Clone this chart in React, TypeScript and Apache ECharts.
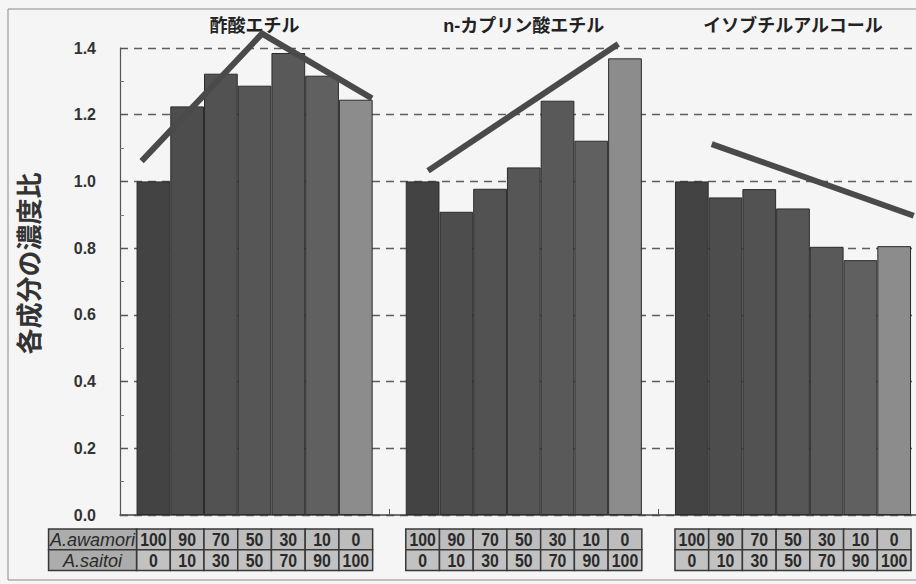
import React, { useEffect, useRef } from "react";
import * as echarts from "echarts";

// ---- data ----
const groups = ["酢酸エチル", "n-カプリン酸エチル", "イソブチルアルコール"];
const awamori = [100, 90, 70, 50, 30, 10, 0];
const saitoi = [0, 10, 30, 50, 70, 90, 100];
const rowLabels = ["A.awamori", "A.saitoi"];

const ethylAcetate = [1.0, 1.225, 1.323, 1.287, 1.385, 1.317, 1.245];
const ethylCaprate = [1.0, 0.909, 0.978, 1.042, 1.242, 1.122, 1.369];
const isobutanol = [1.0, 0.952, 0.977, 0.919, 0.804, 0.764, 0.806];

// trend lines: position in bar units (0 = first bar centre) and value
const trendAcetatePos = [-0.35, 3.22, 6.48];
const trendAcetateVal = [1.061, 1.443, 1.249];
const trendCapratePos = [0.16, 5.8];
const trendCaprateVal = [1.032, 1.412];
const trendIsobutPos = [0.59, 6.58];
const trendIsobutVal = [1.112, 0.897];

const yTicks = [0, 0.2, 0.4, 0.6, 0.8, 1.0, 1.2, 1.4];

// ---- styling ----
const barColors = ["#434343", "#4d4d4d", "#525252", "#565656", "#595959", "#606060", "#8c8c8c"];
const GAP_PCT = 12.3;
const LAT_FONT = "'Liberation Sans', Arial, sans-serif";
const JP_FONT = "'Noto Sans CJK JP', sans-serif";

const groupValues = [ethylAcetate, ethylCaprate, isobutanol];
const trendPos = [trendAcetatePos, trendCapratePos, trendIsobutPos];
const trendVal = [trendAcetateVal, trendCaprateVal, trendIsobutVal];

function barWidthOf(api: any) {
  const band = api.size([1, 0])[0];
  return (band * (1 - GAP_PCT / 100)) / 7;
}

export default function App() {
  const ref = useRef<HTMLDivElement>(null);
  useEffect(() => {
    if (!ref.current) return;
    const chart = echarts.init(ref.current, null, { renderer: "svg" });

    const barSeries = awamori.map((a, i) => ({
      type: "bar",
      name: `${a}/${saitoi[i]}`,
      xAxisIndex: 0,
      yAxisIndex: 0,
      data: groupValues.map((g) => g[i]),
      barGap: "0%",
      barCategoryGap: GAP_PCT + "%",
      itemStyle: { color: barColors[i], borderColor: "#2b2b2b", borderWidth: 1 },
      z: 3,
    }));

    const trendSeries = {
      type: "custom",
      xAxisIndex: 0,
      yAxisIndex: 0,
      clip: false,
      z: 5,
      data: groups.map((_, g) => [g, trendVal[g][0]]),
      renderItem: (params: any, api: any) => {
        const g = params.dataIndex;
        const c = api.coord([g, 0]);
        const bw = barWidthOf(api);
        const pts = trendPos[g].map((p, i) => [
          c[0] - 3 * bw + p * bw,
          api.coord([g, trendVal[g][i]])[1],
        ]);
        return {
          type: "polyline",
          shape: { points: pts },
          style: { stroke: "#4a4a4a", lineWidth: 6, fill: "none", lineJoin: "miter", lineCap: "butt" },
        };
      },
    };

    const tableData: number[][] = [];
    groups.forEach((_, g) => awamori.forEach(() => tableData.push([g, 0])));

    const cellStyle = (fill: string) => ({ fill, stroke: "#383838", lineWidth: 1.5 });
    const numText = (text: string, x: number, y: number) => ({
      type: "text",
      x,
      y,
      scaleX: 0.88,
      style: {
        text, x: 0, y: 0, align: "center", verticalAlign: "middle",
        fontSize: 18, fontWeight: "bold", fontFamily: LAT_FONT, fill: "#2a2a2a",
      },
    });

    const tableSeries = {
      type: "custom",
      xAxisIndex: 0,
      yAxisIndex: 0,
      clip: false,
      z: 2,
      silent: true,
      data: tableData,
      renderItem: (params: any, api: any) => {
        const g = Math.floor(params.dataIndex / 7);
        const k = params.dataIndex % 7;
        const c = api.coord([g, 0]);
        const bw = barWidthOf(api);
        const x0 = c[0] - 3.5 * bw + k * bw;
        const top = c[1] + 14;
        const rowH = 20.7;
        const children: any[] = [
          { type: "rect", shape: { x: x0, y: top, width: bw, height: rowH }, style: cellStyle("#bdbdbd") },
          { type: "rect", shape: { x: x0, y: top + rowH, width: bw, height: rowH }, style: cellStyle("#c2c2c2") },
          numText(String(awamori[k]), x0 + bw / 2, top + rowH / 2 + 1),
          numText(String(saitoi[k]), x0 + bw / 2, top + rowH * 1.5 + 1),
        ];
        if (g === 0 && k === 0) {
          const hw = 88;
          rowLabels.forEach((lab, r) => {
            children.push({
              type: "rect",
              shape: { x: x0 - hw, y: top + r * rowH, width: hw, height: rowH },
              style: cellStyle("#acacac"),
            });
            children.push({
              type: "text",
              style: {
                text: lab, x: x0 - hw / 2, y: top + rowH * (r + 0.5) + 1,
                align: "center", verticalAlign: "middle",
                fontSize: 18, fontStyle: "italic", fontFamily: LAT_FONT, fill: "#2a2a2a",
              },
            });
          });
        }
        return { type: "group", children };
      },
    };

    chart.setOption({
      animation: false,
      backgroundColor: "#f5f5f5",
      textStyle: { fontFamily: LAT_FONT },
      grid: { left: 120, width: 807.6, top: 48, bottom: 69, containLabel: false, outerBoundsMode: "none" },
      xAxis: [
        {
          type: "category",
          data: groups,
          position: "bottom",
          axisLine: { show: true, lineStyle: { color: "#444", width: 1.5 } },
          axisTick: { show: true, inside: true, length: 6, lineStyle: { color: "#555" } },
          axisLabel: { show: false },
          splitLine: { show: false },
        },
        {
          type: "category",
          data: groups,
          position: "top",
          axisLine: { show: false },
          axisTick: { show: false },
          axisLabel: {
            show: true, margin: 13, fontSize: 18, fontWeight: "bold",
            color: "#222", fontFamily: "'Liberation Sans', 'Noto Sans CJK JP', sans-serif",
          },
          splitLine: { show: false },
        },
      ],
      yAxis: {
        type: "value",
        min: yTicks[0],
        max: yTicks[yTicks.length - 1],
        interval: 0.2,
        axisLine: { show: true, lineStyle: { color: "#555", width: 1.2 } },
        axisTick: { show: true, inside: true, length: 7, lineStyle: { color: "#555" } },
        minorTick: { show: true, splitNumber: 2, length: 4, lineStyle: { color: "#777" } },
        axisLabel: {
          margin: 24, fontSize: 16, fontWeight: "bold", color: "#333", fontFamily: LAT_FONT,
          formatter: (v: number) => v.toFixed(1),
        },
        splitLine: { show: true, lineStyle: { color: "#5e5e5e", width: 1.3, type: [8, 6] } },
      },
      graphic: [
        {
          type: "rect",
          shape: { x: 8, y: 9, width: 940, height: 571 },
          style: { fill: "none", stroke: "#8a8a8a", lineWidth: 1 },
          silent: true,
        },
        {
          type: "text",
          x: 27.5,
          y: 263.5,
          rotation: Math.PI / 2,
          style: {
            text: "各成分の濃度比", align: "center", verticalAlign: "middle",
            fontSize: 26, fontWeight: "bold", fill: "#333", fontFamily: JP_FONT,
          },
        },
      ],
      series: [...barSeries, trendSeries, tableSeries],
    });
    return () => chart.dispose();
  }, []);
  return (
    <div
      ref={ref}
      style={{ position: "fixed", left: 0, top: 0, width: 916, height: 584 }}
    />
  );
}
